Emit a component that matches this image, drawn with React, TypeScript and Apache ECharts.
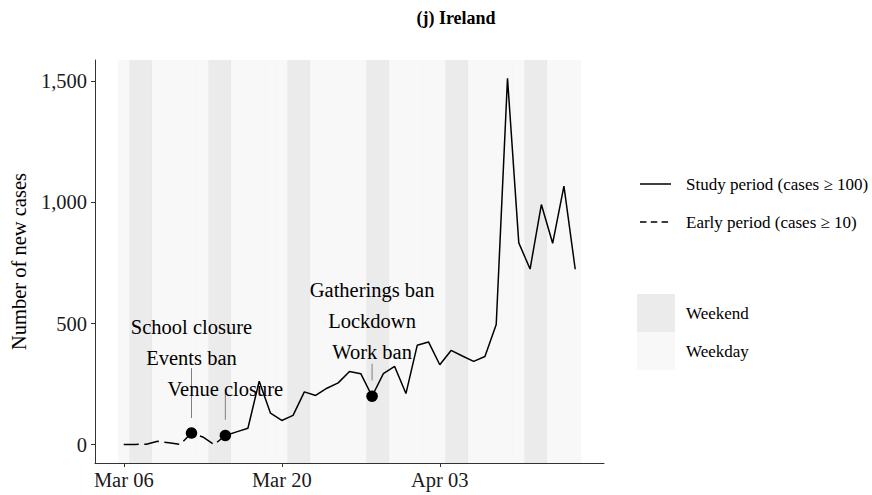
import { useEffect, useRef } from 'react';
import * as echarts from 'echarts';

// ---------- data ----------
const dates = [
  '2020-03-06', '2020-03-07', '2020-03-08', '2020-03-09', '2020-03-10', '2020-03-11', '2020-03-12',
  '2020-03-13', '2020-03-14', '2020-03-15', '2020-03-16', '2020-03-17', '2020-03-18', '2020-03-19',
  '2020-03-20', '2020-03-21', '2020-03-22', '2020-03-23', '2020-03-24', '2020-03-25', '2020-03-26',
  '2020-03-27', '2020-03-28', '2020-03-29', '2020-03-30', '2020-03-31', '2020-04-01', '2020-04-02',
  '2020-04-03', '2020-04-04', '2020-04-05', '2020-04-06', '2020-04-07', '2020-04-08', '2020-04-09',
  '2020-04-10', '2020-04-11', '2020-04-12', '2020-04-13', '2020-04-14', '2020-04-15',
];
const newCases = [
  1, 1, 2, 14, 8, 1, 48, 32, 0, 38,
  53, 68, 262, 130, 100, 121, 218, 203, 233, 255, 302, 293, 200, 293, 323, 211,
  410, 424, 330, 389, 366, 344, 364, 496, 1512, 833, 725, 991, 831, 1067, 724,
];
const studyStartDate = '2020-03-15';

const xTickDates = ['2020-03-06', '2020-03-20', '2020-04-03'];
const xTickLabels = ['Mar 06', 'Mar 20', 'Apr 03'];
const yTickValues = [0, 500, 1000, 1500];
const yTickLabels = ['0', '500', '1,000', '1,500'];

const interventionDates = ['2020-03-12', '2020-03-12', '2020-03-15', '2020-03-28', '2020-03-28', '2020-03-28'];
const interventionNames = ['School closure', 'Events ban', 'Venue closure', 'Gatherings ban', 'Lockdown', 'Work ban'];

const titleText = '(j) Ireland';
const yAxisTitle = 'Number of new cases';
const lineLegendLabels = ['Study period (cases \u2265 100)', 'Early period (cases \u2265 10)'];
const dayLegendLabels = ['Weekend', 'Weekday'];

// ---------- layout (label placement, in value units) ----------
const labelLevels = [486, 358, 231, 637, 509, 381];
const segmentLayout: Record<string, [number, number]> = {
  '2020-03-12': [316, 110],
  '2020-03-15': [214, 103],
  '2020-03-28': [334, 265],
};

const SERIF = '"Liberation Serif", "Times New Roman", Times, serif';
const WEEKEND = '#ebebeb';
const WEEKDAY = '#f8f8f8';
const DAY = 86400000;

export default function App() {
  const ref = useRef<HTMLDivElement>(null);

  useEffect(() => {
    if (!ref.current) return;
    const chart = echarts.init(ref.current, null, { renderer: 'svg' });

    const t0 = Date.parse(dates[0]);
    const idx = (d: string) => Math.round((Date.parse(d) - t0) / DAY);
    const valueAt = (d: string) => newCases[dates.indexOf(d)];

    const studyIdx = idx(studyStartDate);
    const earlyData = dates.slice(0, studyIdx + 1).map((d, i) => [idx(d), newCases[i]]);
    const studyData = dates.slice(studyIdx).map((d, i) => [idx(d), newCases[studyIdx + i]]);

    const tileData = dates.map((d) => {
      const wd = new Date(Date.parse(d)).getUTCDay();
      return [idx(d), wd === 0 || wd === 6 ? 1 : 0];
    });

    const uniqueInterventionDates = Array.from(new Set(interventionDates));
    const dotData = uniqueInterventionDates.map((d) => [idx(d), valueAt(d)]);
    const segData = uniqueInterventionDates.map((d) => [idx(d), segmentLayout[d][0], segmentLayout[d][1]]);
    const labelData = interventionDates.map((d, i) => [idx(d), labelLevels[i]]);

    const xMin = -0.5 - 0.05 * dates.length;
    const xMax = dates.length - 0.5 + 0.05 * dates.length;
    const yMaxData = Math.max(...newCases);
    const yMin = -0.05 * yMaxData;
    const yMax = yMaxData * 1.05;

    const xTickIdx = xTickDates.map(idx);

    const option: any = {
      animation: false,
      backgroundColor: '#ffffff',
      grid: { left: 95, right: 268, top: 60, bottom: 32 },
      xAxis: {
        type: 'value',
        min: xMin,
        max: xMax,
        axisLine: { show: true, onZero: false, lineStyle: { color: '#333333', width: 1 } },
        axisTick: { show: true, length: 4, lineStyle: { color: '#333333' }, customValues: xTickIdx },
        axisLabel: {
          customValues: xTickIdx,
          formatter: (v: number) => xTickLabels[xTickIdx.indexOf(Math.round(v))] ?? '',
          fontFamily: SERIF,
          fontSize: 20.5,
          color: '#1a1a1a',
          margin: 6,
        },
        splitLine: { show: false },
      },
      yAxis: {
        type: 'value',
        min: yMin,
        max: yMax,
        name: yAxisTitle,
        nameLocation: 'middle',
        nameGap: 60,
        nameTextStyle: { fontFamily: SERIF, fontSize: 20.5, color: '#000' },
        axisLine: { show: true, onZero: false, lineStyle: { color: '#333333', width: 1 } },
        axisTick: { show: true, length: 4, lineStyle: { color: '#333333' }, customValues: yTickValues },
        axisLabel: {
          customValues: yTickValues,
          formatter: (v: number) => yTickLabels[yTickValues.indexOf(Math.round(v))] ?? '',
          fontFamily: SERIF,
          fontSize: 20.5,
          color: '#1a1a1a',
          margin: 8,
        },
        splitLine: { show: false },
      },
      series: [
        {
          type: 'custom',
          name: 'days',
          silent: true,
          z: 1,
          data: tileData,
          renderItem: (params: any, api: any) => {
            const c = api.value(0);
            const x0 = api.coord([c - 0.5, 0])[0];
            const x1 = api.coord([c + 0.5, 0])[0];
            const cs = params.coordSys;
            return {
              type: 'rect',
              shape: { x: x0, y: cs.y, width: x1 - x0, height: cs.height },
              style: { fill: api.value(1) ? WEEKEND : WEEKDAY, stroke: 'rgba(0,0,0,0.012)', lineWidth: 1 },
            };
          },
        },
        {
          type: 'line',
          name: lineLegendLabels[1],
          data: earlyData,
          symbol: 'none',
          z: 3,
          lineStyle: { color: '#000', width: 1.5, type: [15, 5.5] },
        },
        {
          type: 'line',
          name: lineLegendLabels[0],
          data: studyData,
          symbol: 'none',
          z: 3,
          lineStyle: { color: '#000', width: 1.5, type: 'solid' },
        },
        {
          type: 'custom',
          name: 'segments',
          silent: true,
          z: 4,
          data: segData,
          renderItem: (_params: any, api: any) => {
            const a = api.coord([api.value(0), api.value(1)]);
            const b = api.coord([api.value(0), api.value(2)]);
            return {
              type: 'line',
              shape: { x1: a[0], y1: a[1], x2: b[0], y2: b[1] },
              style: { stroke: '#7f7f7f', lineWidth: 1 },
            };
          },
        },
        {
          type: 'scatter',
          name: 'interventions',
          data: dotData,
          symbol: 'circle',
          symbolSize: 11.5,
          z: 5,
          itemStyle: { color: '#000', opacity: 1 },
        },
        {
          type: 'custom',
          name: 'labels',
          silent: true,
          z: 6,
          data: labelData,
          renderItem: (params: any, api: any) => {
            const p = api.coord([api.value(0), api.value(1)]);
            return {
              type: 'text',
              x: p[0],
              y: p[1],
              style: {
                text: interventionNames[params.dataIndex],
                fill: '#000',
                fontSize: 20.5,
                fontFamily: SERIF,
                align: 'center',
                verticalAlign: 'middle',
              },
            };
          },
        },
      ],
      graphic: [
        {
          type: 'text',
          x: 456,
          y: 18,
          style: { text: titleText, fill: '#000', fontSize: 18, fontWeight: 'bold', fontFamily: SERIF, align: 'center', verticalAlign: 'middle' },
        },
        { type: 'line', shape: { x1: 640, y1: 184, x2: 671, y2: 184 }, style: { stroke: '#000', lineWidth: 1.5 } },
        { type: 'line', shape: { x1: 640, y1: 222, x2: 669, y2: 222 }, style: { stroke: '#000', lineWidth: 1.5, lineDash: [6.5, 4.3] } },
        { type: 'text', x: 686, y: 184, style: { text: lineLegendLabels[0], fill: '#000', fontSize: 17, fontFamily: SERIF, align: 'left', verticalAlign: 'middle' } },
        { type: 'text', x: 686, y: 222.5, style: { text: lineLegendLabels[1], fill: '#000', fontSize: 17, fontFamily: SERIF, align: 'left', verticalAlign: 'middle' } },
        { type: 'rect', shape: { x: 637, y: 294, width: 38, height: 38 }, style: { fill: WEEKEND } },
        { type: 'rect', shape: { x: 637, y: 332, width: 38, height: 38 }, style: { fill: WEEKDAY } },
        { type: 'text', x: 686, y: 313.6, style: { text: dayLegendLabels[0], fill: '#000', fontSize: 17, fontFamily: SERIF, align: 'left', verticalAlign: 'middle' } },
        { type: 'text', x: 686, y: 351.3, style: { text: dayLegendLabels[1], fill: '#000', fontSize: 17, fontFamily: SERIF, align: 'left', verticalAlign: 'middle' } },
      ],
    };

    chart.setOption(option);
    return () => chart.dispose();
  }, []);

  return <div ref={ref} style={{ position: 'fixed', left: 0, top: 0, width: 872, height: 495 }} />;
}
